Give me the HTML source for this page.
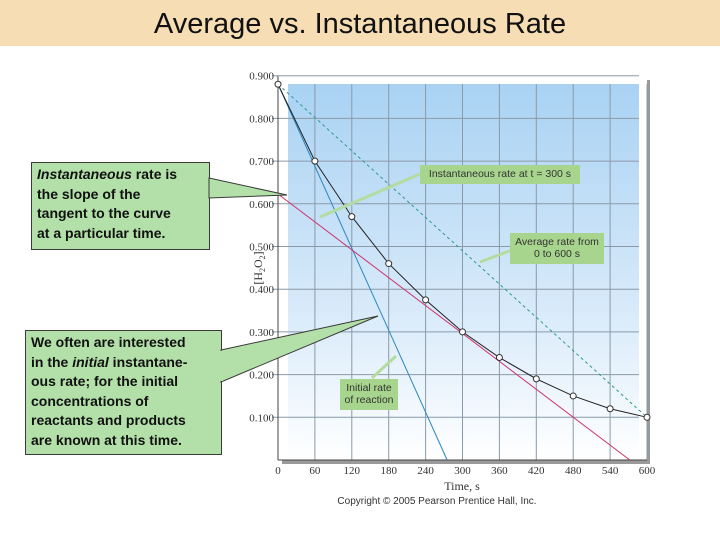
<!DOCTYPE html>
<html><head><meta charset="utf-8"><style>
body{margin:0;width:720px;height:540px;background:#fff;position:relative;overflow:hidden;font-family:"Liberation Sans",sans-serif}
#title{position:absolute;left:0;top:0;width:720px;height:46px;background:#f6ddb3;text-align:center;font-size:29px;line-height:48px;color:#111}
.note{position:absolute;background:#b2e0a8;border:1px solid #3a3a3a;font-weight:bold;font-size:14px;line-height:19.5px;color:#111;padding:2px 0 0 5px;box-sizing:border-box}
svg{position:absolute;left:0;top:0}
</style></head><body>
<div id="title">Average vs. Instantaneous Rate</div>
<svg width="720" height="540" id="chart">
<defs><linearGradient id="bg" x1="0" y1="0" x2="0" y2="1"><stop offset="0" stop-color="#a9d2f3"/><stop offset="0.6" stop-color="#d8eafa"/><stop offset="1" stop-color="#ffffff"/></linearGradient></defs>
<g id="plot"></g>
</svg>
<div class="note" style="left:31px;top:162px;width:179px;height:88px"><i>Instantaneous</i> rate is<br>the slope of the<br>tangent to the curve<br>at a particular time.</div>
<div class="note" style="left:25px;top:330px;width:197px;height:125px">We often are interested<br>in the <i>initial</i> instantane-<br>ous rate; for the initial<br>concentrations of<br>reactants and products<br>are known at this time.</div>
<svg width="720" height="540" style="pointer-events:none">
<polygon points="209,178 287,195 209,198" fill="#b2e0a8" stroke="#3a3a3a" stroke-width="1"/>
<polygon points="221,350 378,316 221,382" fill="#b2e0a8" stroke="#3a3a3a" stroke-width="1"/>
<rect x="210" y="179" width="2" height="18" fill="#b2e0a8"/>
<rect x="220" y="351" width="3" height="30" fill="#b2e0a8"/>
</svg>
<script>
const times=[0,60,120,180,240,300,360,420,480,540,600];
const conc=[0.88,0.70,0.57,0.46,0.375,0.30,0.24,0.19,0.15,0.12,0.10];
const xTicks=[0,60,120,180,240,300,360,420,480,540,600];
const yTicks=[0.1,0.2,0.3,0.4,0.5,0.6,0.7,0.8,0.9];
const initialTangentEnd=[275,0];
const tangent300=[[0,0.623],[572,0]];
const NS='http://www.w3.org/2000/svg';
const X=t=>278+t*0.615, Y=v=>460-v*427;
const g=document.getElementById('plot');
function mk(tag,at,parent){const e=document.createElementNS(NS,tag);for(const k in at)e.setAttribute(k,at[k]);(parent||g).appendChild(e);return e;}
let e;
e=mk('rect',{x:282,y:80,width:368,height:384,fill:'#9a9a9a'});

e=mk('rect',{x:278,y:76,width:369,height:384,fill:'#fff'});

e=mk('rect',{x:288,y:84,width:351,height:376,fill:'url(#bg)'});

for(const t of xTicks){if(t===0)continue;
e=mk('line',{x1:X(t),y1:84,x2:X(t),y2:460,stroke:'#8a9aa8','stroke-width':1});

e=mk('text',{x:X(t),y:474,'text-anchor':'middle','font-size':11,'font-family':'Liberation Serif',fill:'#333'});e.textContent=t;
}
e=mk('text',{x:X(0),y:474,'text-anchor':'middle','font-size':11,'font-family':'Liberation Serif',fill:'#333'});e.textContent='0';

for(const v of yTicks){
e=mk('line',{x1:272,y1:Y(v),x2:639,y2:Y(v),stroke:'#8a9aa8','stroke-width':1});

e=mk('text',{x:274,y:Y(v)+4,'text-anchor':'end','font-size':11,'font-family':'Liberation Serif',fill:'#333'});e.textContent=v.toFixed(3);
}
e=mk('line',{x1:278,y1:76,x2:278,y2:460,stroke:'#444'});
e=mk('line',{x1:278,y1:460,x2:647,y2:460,stroke:'#444'});
e=mk('text',{x:462,y:490,'text-anchor':'middle','font-size':12,'font-family':'Liberation Serif',fill:'#333'});e.textContent='Time, s';

e=mk('text',{x:0,y:0,transform:'translate(262,268) rotate(-90)','text-anchor':'middle','font-size':12,'font-family':'Liberation Serif',fill:'#333'});
e.innerHTML='[H<tspan font-size="8" dy="3">2</tspan><tspan dy="-3">O</tspan><tspan font-size="8" dy="3">2</tspan><tspan dy="-3">]</tspan>';

e=mk('text',{x:437,y:504,'text-anchor':'middle','font-size':10,fill:'#333'});e.textContent='Copyright © 2005 Pearson Prentice Hall, Inc.';

e=mk('line',{x1:X(times[0]),y1:Y(conc[0]),x2:X(times[10]),y2:Y(conc[10]),stroke:'#2a9a8a','stroke-width':1,'stroke-dasharray':'3,3'});

e=mk('line',{x1:X(times[0]),y1:Y(conc[0]),x2:X(initialTangentEnd[0]),y2:Y(initialTangentEnd[1]),stroke:'#2a86c0','stroke-width':1});

e=mk('line',{x1:X(tangent300[0][0]),y1:Y(tangent300[0][1]),x2:X(tangent300[1][0]),y2:Y(tangent300[1][1]),stroke:'#d0306a','stroke-width':1});

e=mk('polyline',{points:times.map((t,i)=>X(t)+','+Y(conc[i])).join(' '),fill:'none',stroke:'#222','stroke-width':1});

times.forEach((t,i)=>{e=mk('circle',{cx:X(t),cy:Y(conc[i]),r:3,fill:'#fff',stroke:'#333'});
});
function label(x,y,w,h,lines,px,py,name){
e=mk('line',{x1:px[0],y1:px[1],x2:py[0],y2:py[1],stroke:'#b5dca0','stroke-width':3});

e=mk('rect',{x,y,width:w,height:h,fill:'#a8d58e'});

lines.forEach((s,i)=>{const t=mk('text',{x:x+w/2,y:y+12+i*12,'text-anchor':'middle','font-size':10.5,fill:'#333'});t.textContent=s;});}
label(420,165,160,19,['Instantaneous rate at t = 300 s'],[320,217],[420,174],'instantaneous-rate-label');
label(510,233,94,31,['Average rate from','0 to 600 s'],[480,262],[512,250],'average-rate-label');
label(340,379,58,31,['Initial rate','of reaction'],[372,378],[396,356],'initial-rate-label');
</script>
</body></html>
